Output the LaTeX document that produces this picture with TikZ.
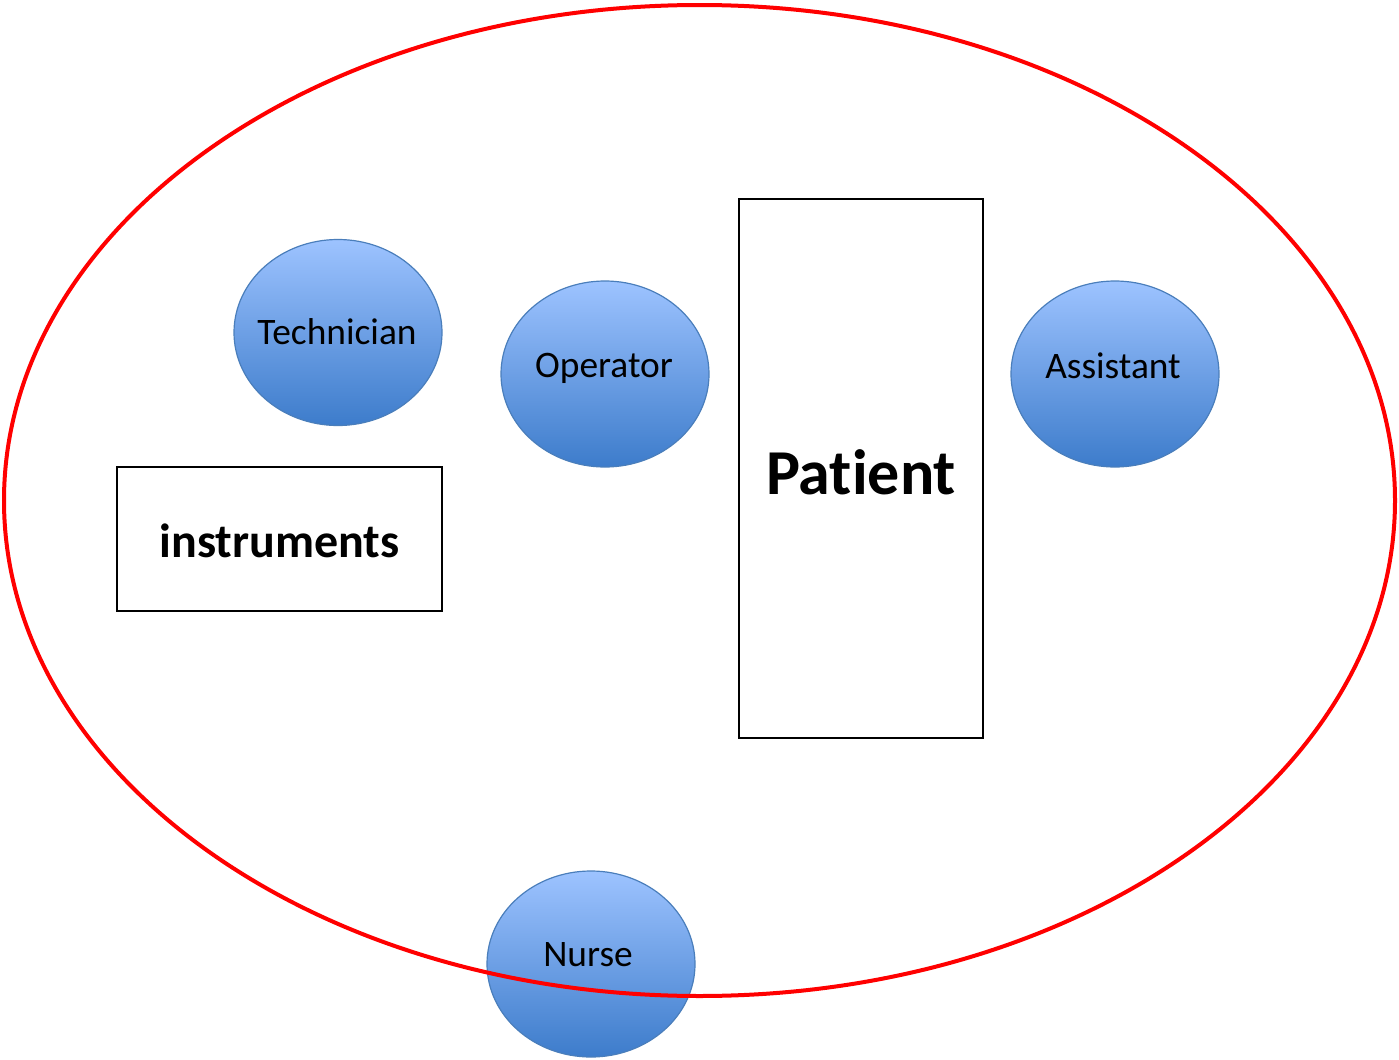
\documentclass[tikz,border=0pt]{standalone}
\usepackage{fontspec}
\setmainfont{Carlito}[Ligatures={NoCommon,NoRare}]
\usetikzlibrary{shapes.geometric}
\definecolor{blueTop}{HTML}{9DC3FF}
\definecolor{blueBot}{HTML}{3D7CCB}
\definecolor{blueEdge}{HTML}{4A7EBB}
\definecolor{roomRed}{HTML}{FF0000}
\tikzset{
  person/.style={ellipse, draw=blueEdge, line width=0.6pt, top color=blueTop, bottom color=blueBot,
    minimum width=104pt, minimum height=93pt, inner sep=0pt},
  personlabel/.style={font=\fontsize{18.7}{20}\selectfont},
  thing/.style={rectangle, draw=black, line width=1pt, fill=white, inner sep=0pt},
  room/.style={ellipse, draw=roomRed, line width=2pt, inner sep=0pt, minimum width=695.5pt, minimum height=495.5pt}
}
\begin{document}
\begin{tikzpicture}[x=0.5pt,y=-0.5pt]
\useasboundingbox (0,0) rectangle (1399,1060);
\node[thing, minimum width=162.5pt, minimum height=72pt] (instr) at (279.5,539) {};
\node[font=\bfseries\fontsize{24}{26}\selectfont] (instrtext) at (279.5,541) {instruments};
\node[thing, minimum width=122pt, minimum height=269.5pt] (patient) at (861,468.5) {};
\node[font=\bfseries\fontsize{32}{34}\selectfont] (patienttext) at (861,472) {Patient};
\node[person] (tech) at (338,332.5) {};
\node[personlabel] (techtext) at (337,332) {Technician};
\node[person] (oper) at (605,374) {};
\node[personlabel] (opertext) at (604,368) {Operator};
\node[person] (assist) at (1115,374) {};
\node[personlabel] (assisttext) at (1113,366) {Assistant};
\node[person] (nurse) at (591,964) {};
\node[personlabel] (nursetext) at (588,955) {Nurse};
\node[room] (roomshape) at (699.5,500.5) {};
\end{tikzpicture}
\end{document}
